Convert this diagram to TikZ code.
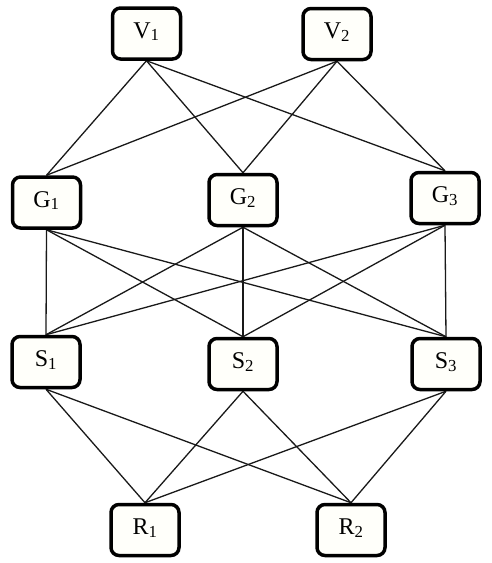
\documentclass[tikz,border=0pt]{standalone}
\usepackage{fontspec}
\setmainfont{Liberation Serif}
\usetikzlibrary{backgrounds}
\newcommand{\lbl}[2]{#1\textsubscript{\raisebox{0.45ex}{#2}}}
\begin{document}
\begin{tikzpicture}[x=1pt,y=-1pt,
  box/.style={draw=black, line width=3.5pt, rounded corners=8pt, fill=white!98!yellow,
    minimum width=68pt, minimum height=51pt, inner sep=0pt, font=\fontsize{24}{26}\selectfont},
  link/.style={draw=black!90, line width=1.3pt}]
\useasboundingbox (0,0) rectangle (492,563);
\node[box] (V1) at (146.5,33.5) {\lbl{V}{1}};
\node[box] (V2) at (337,34) {\lbl{V}{2}};
\node[box] (G1) at (46.5,202.5) {\lbl{G}{1}};
\node[box] (G2) at (243,200) {\lbl{G}{2}};
\node[box] (G3) at (445,198) {\lbl{G}{3}};
\node[box] (S1) at (46,362) {\lbl{S}{1}};
\node[box] (S2) at (243,364) {\lbl{S}{2}};
\node[box] (S3) at (446,364) {\lbl{S}{3}};
\node[box] (R1) at (145,530) {\lbl{R}{1}};
\node[box] (R2) at (351,530) {\lbl{R}{2}};
\begin{scope}[on background layer]
\foreach \a in {V1,V2}{\foreach \b in {G1,G2,G3}{\draw[link] (\a.south) -- (\b.north);}}
\foreach \a in {G1,G2,G3}{\foreach \b in {S1,S2,S3}{\draw[link] (\a.south) -- (\b.north);}}
\foreach \a in {S1,S2,S3}{\foreach \b in {R1,R2}{\draw[link] (\a.south) -- (\b.north);}}
\end{scope}
\end{tikzpicture}
\end{document}
